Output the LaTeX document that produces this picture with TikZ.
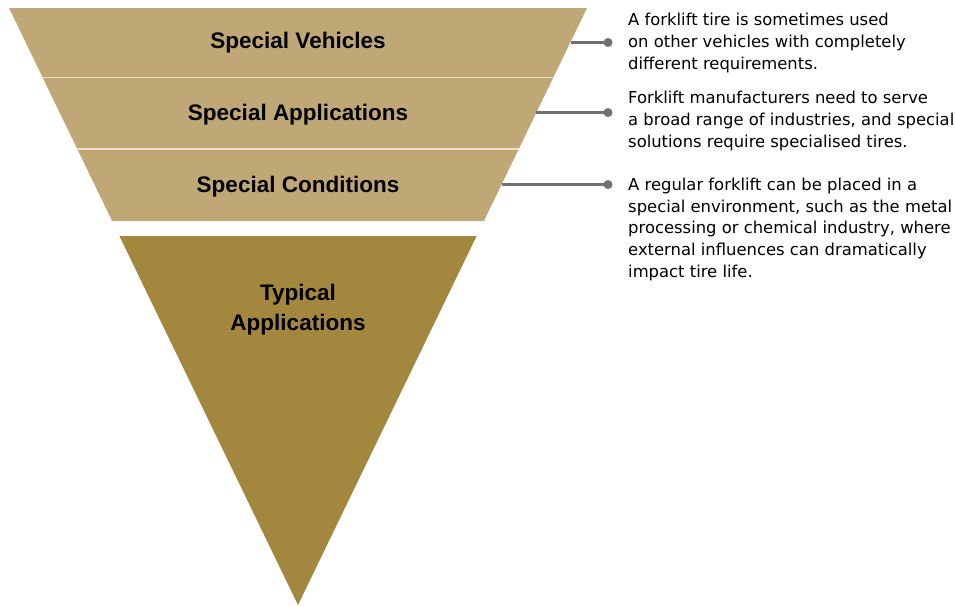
\documentclass[tikz,border=0pt]{standalone}
\usepackage{fontspec}
\setmainfont{Liberation Sans}
\newfontfamily\notefont{DejaVu Sans}
\definecolor{bandc}{RGB}{191,168,117}
\definecolor{typc}{RGB}{163,135,62}
\definecolor{sepc}{RGB}{236,226,205}
\definecolor{linec}{RGB}{112,112,112}
\begin{document}
\begin{tikzpicture}[x=1pt,y=-1pt,
  lab/.style={font=\fontsize{22.5}{30.5}\selectfont\bfseries, text=black, anchor=base, inner sep=0pt, align=center},
  note/.style={font=\notefont\fontsize{16.4}{21.9}\selectfont, text=black, anchor=north west, inner sep=0pt, align=left},
  dot/.style={circle, fill=linec, minimum size=9pt, inner sep=0pt},
  conn/.style={draw=linec, line width=2.2pt}]
\useasboundingbox (0,0) rectangle (955,605);
% funnel bands
\fill[bandc] (9,8) -- (587,8) -- (483.9,221) -- (112.1,221) -- cycle;
\draw[sepc, line width=1.8pt] (42.4,77.5) -- (553.4,77.5);
\draw[sepc, line width=1.8pt] (77.3,149) -- (518.7,149);
\fill[typc] (119.4,236) -- (476.6,236) -- (298,605) -- cycle;
% labels
\node[lab] (sv) at (298,48.5) {Special Vehicles};
\node[lab] (sa) at (298,120.5) {Special Applications};
\node[lab] (sc) at (298,192.5) {Special Conditions};
\node[lab] (ta) at (298,330.5) {Typical\\Applications};
% edge points
\coordinate (e1) at (570.8,42.5);
\coordinate (e2) at (536,112.5);
\coordinate (e3) at (501.5,184.5);
% dots
\node[dot] (d1) at (608,42.5) {};
\node[dot] (d2) at (608,112.5) {};
\node[dot] (d3) at (608,184.5) {};
\draw[conn] (e1) -- (d1.center);
\draw[conn] (e2) -- (d2.center);
\draw[conn] (e3) -- (d3.center);
% notes
\node[note] (n1) at (628,13) {A forklift tire is sometimes used\\on other vehicles with completely\\different requirements.};
\node[note] (n2) at (628,91) {Forklift manufacturers need to serve\\a broad range of industries, and special\\solutions require specialised tires.};
\node[note] (n3) at (628,177.5) {A regular forklift can be placed in a\\special environment, such as the metal\\processing or chemical industry, where\\external influences can dramatically\\impact tire life.};
\end{tikzpicture}
\end{document}
